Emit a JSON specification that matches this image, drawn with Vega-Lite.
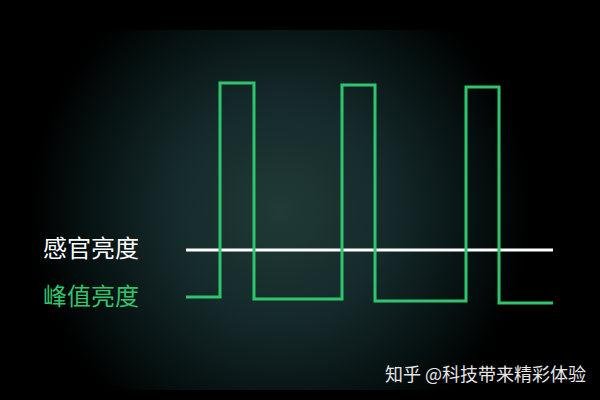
{
  "$schema": "https://vega.github.io/schema/vega-lite/v6.json",
  "width": 600,
  "height": 400,
  "autosize": {"type": "fit", "contains": "padding"},
  "padding": 0,
  "background": "#000000",
  "config": {"view": {"stroke": null}},
  "datasets": {
    "peak": [
      {"i": 1, "t": 186, "level": 103},
      {"i": 2, "t": 220, "level": 103},
      {"i": 3, "t": 220, "level": 317},
      {"i": 4, "t": 254, "level": 317},
      {"i": 5, "t": 254, "level": 101},
      {"i": 6, "t": 342, "level": 101},
      {"i": 7, "t": 342, "level": 315},
      {"i": 8, "t": 375, "level": 315},
      {"i": 9, "t": 375, "level": 99},
      {"i": 10, "t": 466, "level": 99},
      {"i": 11, "t": 466, "level": 313},
      {"i": 12, "t": 499, "level": 313},
      {"i": 13, "t": 499, "level": 97},
      {"i": 14, "t": 553, "level": 97}
    ],
    "perceived": [
      {"t": 186, "level": 150},
      {"t": 553, "level": 150}
    ],
    "labels": [
      {"name": "感官亮度", "t": 43, "level": 150},
      {"name": "峰值亮度", "t": 43, "level": 102}
    ],
    "glow": [
      {"t0": 30, "t1": 530, "l0": 10, "l1": 370}
    ]
  },
  "encoding": {
    "x": {"field": "t", "type": "quantitative", "scale": {"domain": [0, 600]}, "axis": null},
    "y": {"field": "level", "type": "quantitative", "scale": {"domain": [0, 400]}, "axis": null}
  },
  "layer": [
    {
      "data": {"name": "glow"},
      "mark": {
        "type": "rect",
        "fill": {
          "gradient": "radial",
          "x1": 0.5, "y1": 0.5, "r1": 0,
          "x2": 0.5, "y2": 0.5, "r2": 0.5,
          "stops": [
            {"offset": 0, "color": "#203a37"},
            {"offset": 0.45, "color": "#15292a"},
            {"offset": 0.8, "color": "#061010"},
            {"offset": 1, "color": "#000000"}
          ]
        }
      },
      "encoding": {
        "x": {"field": "t0", "type": "quantitative"},
        "x2": {"field": "t1"},
        "y": {"field": "l0", "type": "quantitative"},
        "y2": {"field": "l1"}
      }
    },
    {
      "data": {"name": "perceived"},
      "mark": {"type": "line", "color": "#ffffff", "strokeWidth": 3}
    },
    {
      "data": {"name": "peak"},
      "mark": {"type": "line", "color": "#2ec66d", "strokeWidth": 3, "strokeJoin": "miter"},
      "encoding": {"order": {"field": "i", "type": "quantitative"}}
    },
    {
      "data": {"name": "labels"},
      "mark": {"type": "text", "align": "left", "baseline": "middle", "font": "Noto Sans CJK SC", "fontSize": 24, "fontWeight": 400},
      "encoding": {
        "text": {"field": "name"},
        "color": {"field": "name", "type": "nominal", "scale": {"domain": ["感官亮度", "峰值亮度"], "range": ["#ffffff", "#2ec66d"]}, "legend": null}
      }
    },
    {
      "data": {"values": [{"t": 385, "level": 24, "mark": "知乎 @科技带来精彩体验"}]},
      "mark": {"type": "text", "align": "left", "baseline": "middle", "font": "Noto Sans CJK SC", "fontSize": 18, "fontWeight": 400, "color": "#e6e6e6"},
      "encoding": {"text": {"field": "mark"}}
    }
  ]
}
